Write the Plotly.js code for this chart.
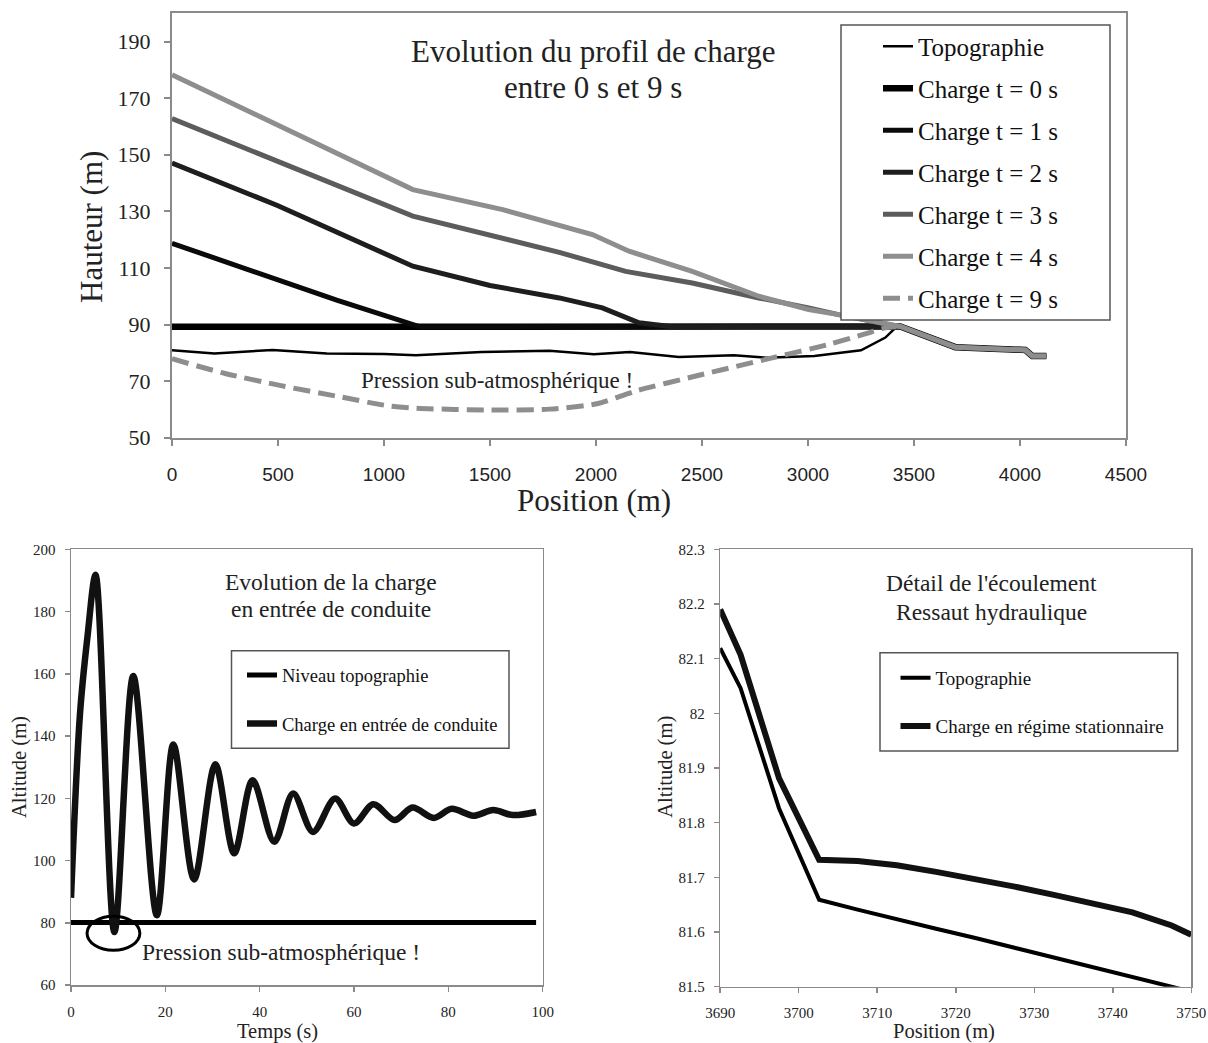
<!DOCTYPE html>
<html>
<head>
<meta charset="utf-8">
<script src="https://cdn.plot.ly/plotly-3.0.1.min.js"></script>
<style>
html,body{margin:0;padding:0;background:#ffffff;}
#chart{width:1208px;height:1043px;}
</style>
</head>
<body>
<div id="chart"></div>
<script>
// ---------- Top chart: Evolution du profil de charge ----------
var topoPos   = [0, 200, 475, 730, 1000, 1150, 1460, 1780, 1990, 2160, 2390, 2650, 2800, 3030, 3250, 3365, 3415];
var topoVal   = [80.9, 79.8, 81.0, 79.8, 79.6, 79.1, 80.3, 80.7, 79.5, 80.3, 78.5, 79.1, 78.3, 78.9, 80.9, 85.4, 89.0];
var tailPos   = [3435, 3695, 4025, 4058, 4124];
var tailVal   = [89.3, 82.0, 81.0, 78.9, 78.9];
var c0Pos = [0, 3415];
var c0Val = [89.2, 89.2];
var c1Pos = [0, 500, 777, 1170, 3415];
var c1Val = [118.7, 106.0, 98.6, 89.2, 89.2];
var c2Pos = [0, 500, 1136, 1500, 1827, 2030, 2203, 2360, 3415];
var c2Val = [147.1, 132.0, 110.6, 103.8, 99.4, 95.9, 90.6, 89.2, 89.2];
var c3Pos = [0, 1136, 1827, 2046, 2140, 2454, 2768, 3003, 3144, 3415];
var c3Val = [162.8, 128.3, 115.5, 110.8, 108.8, 104.7, 99.4, 95.9, 93.5, 89.5];
var c4Pos = [0, 1136, 1560, 1983, 2156, 2454, 2768, 3003, 3144, 3415];
var c4Val = [178.3, 137.7, 130.6, 121.8, 115.9, 108.8, 100.0, 95.3, 93.5, 89.5];
var c9Pos = [0, 250, 520, 775, 1026, 1151, 1500, 1779, 2004, 2188, 2471, 2836, 3099, 3265, 3365, 3415];
var c9Val = [77.9, 72.7, 68.3, 64.7, 61.2, 60.4, 59.8, 60.1, 62.0, 66.5, 71.8, 78.3, 83.0, 86.6, 88.8, 89.2];
var topNames = ['Topographie', 'Charge t = 0 s', 'Charge t = 1 s', 'Charge t = 2 s', 'Charge t = 3 s', 'Charge t = 4 s', 'Charge t = 9 s'];
var topXTicks = [0, 500, 1000, 1500, 2000, 2500, 3000, 3500, 4000, 4500];
var topYTicks = [50, 70, 90, 110, 130, 150, 170, 190];

// ---------- Bottom-left: Evolution de la charge en entrée de conduite ----------
var temps  = [0, 1.9, 3.5, 5.2, 9.2, 13.2, 18.2, 21.7, 26.1, 30.6, 34.6, 38.5, 43.1, 47.1, 51.3, 56.0, 60.0, 64.1, 68.6, 72.4, 76.9, 80.7, 85.3, 89.5, 93.7, 98.6];
var chargeEntree = [88, 147, 172, 191.8, 77, 159.3, 82.4, 137.3, 93.9, 130.9, 102.3, 125.8, 106.0, 121.5, 109.2, 119.9, 111.9, 118.1, 113.0, 117.0, 113.7, 116.6, 114.4, 116.2, 114.6, 115.6];
var tempsTopo = [0, 98.6];
var niveauTopo = [80.1, 80.1];
var blNames = ['Niveau topographie', 'Charge en entrée de conduite'];

// ---------- Bottom-right: Détail de l'écoulement, ressaut hydraulique ----------
var posDetail = [3690, 3692.6, 3697.5, 3702.6, 3707.5, 3712.5, 3717.5, 3722.5, 3727.5, 3732.5, 3737.5, 3742.5, 3747.5, 3750];
var topoDetail = [82.119, 82.046, 81.826, 81.659, 81.641, 81.623, 81.606, 81.589, 81.571, 81.553, 81.536, 81.518, 81.500, 81.491];
var chargeDetail = [82.190, 82.107, 81.881, 81.732, 81.730, 81.722, 81.710, 81.697, 81.683, 81.668, 81.652, 81.636, 81.612, 81.595];
var brNames = ['Topographie', 'Charge en régime stationnaire'];

var SERIF = '"Liberation Serif", "Times New Roman", serif';
var SANS = '"Liberation Sans", Arial, sans-serif';
var W = 1208, H = 1043;
function px(x){ return x / W; }
function py(y){ return 1 - y / H; }

var traces = [];
function topTrace(i, xs, ys, color, width, dash, shape){
  traces.push({
    type: 'scatter', mode: 'lines', x: xs, y: ys, name: topNames[i],
    xaxis: 'x', yaxis: 'y', legend: 'legend', legendgroup: 'g' + i,
    line: {color: color, width: width, dash: dash || 'solid', shape: shape || 'linear', smoothing: 0.7}
  });
}
topTrace(0, topoPos.concat(tailPos), topoVal.concat(tailVal), '#000000', 2.5);
topTrace(1, c0Pos.concat(tailPos), c0Val.concat(tailVal), '#000000', 6.5);
topTrace(2, c1Pos.concat(tailPos), c1Val.concat(tailVal), '#0a0a0a', 5);
topTrace(3, c2Pos.concat(tailPos), c2Val.concat(tailVal), '#1e1e1e', 5);
topTrace(4, c3Pos.concat(tailPos), c3Val.concat(tailVal), '#5c5c5c', 5);
topTrace(5, c4Pos.concat(tailPos), c4Val.concat(tailVal), '#8e8e8e', 5);
topTrace(6, c9Pos, c9Val, '#8e8e8e', 5, '17px,8px', 'spline');

traces.push({type:'scatter', mode:'lines', x: tempsTopo, y: niveauTopo, name: blNames[0],
  xaxis:'x2', yaxis:'y2', legend:'legend2', legendgroup:'b0', line:{color:'#000', width:5}});
traces.push({type:'scatter', mode:'lines', x: temps, y: chargeEntree, name: blNames[1],
  xaxis:'x2', yaxis:'y2', legend:'legend2', legendgroup:'b1', line:{color:'#111', width:6.5, shape:'spline', smoothing:0.9}});

traces.push({type:'scatter', mode:'lines', x: posDetail, y: topoDetail, name: brNames[0],
  xaxis:'x3', yaxis:'y3', legend:'legend3', legendgroup:'r0', line:{color:'#000', width:4}});
traces.push({type:'scatter', mode:'lines', x: posDetail, y: chargeDetail, name: brNames[1],
  xaxis:'x3', yaxis:'y3', legend:'legend3', legendgroup:'r1', line:{color:'#111', width:6}});

var frameColor = '#8a8a8a';
function axBase(extra){
  var a = {showline:true, linecolor:frameColor, linewidth:1.5, mirror:true, showgrid:false, zeroline:false,
           ticks:'outside', ticklen:5, tickcolor:frameColor, tickwidth:1.5, fixedrange:true};
  for (var k in extra) a[k] = extra[k];
  return a;
}
function note(x, y, text, size, angle){
  var a = {xref:'paper', yref:'paper', x:px(x), y:py(y), xanchor:'center', yanchor:'middle', showarrow:false,
           text:text, font:{family:SERIF, size:size, color:'#222'}};
  if (angle) a.textangle = angle;
  return a;
}

var layout = {
  width: W, height: H,
  margin: {l:0, r:0, t:0, b:0},
  paper_bgcolor: '#ffffff', plot_bgcolor: '#ffffff',
  showlegend: true,
  xaxis: axBase({domain:[px(172), px(1126)], anchor:'y', range:[0, 4500], tickvals: topXTicks,
    linewidth:2, tickwidth:2, ticklen:6,
    tickfont:{family:SANS, size:19, color:'#222'}, ticklabelstandoff:12}),
  yaxis: axBase({domain:[py(437.7), py(13.3)], anchor:'x', range:[50, 200], tickvals: topYTicks,
    linewidth:2, tickwidth:2, ticklen:6,
    tickfont:{family:SERIF, size:22, color:'#222'}, ticklabelstandoff:9}),
  xaxis2: axBase({domain:[px(71), px(542.7)], anchor:'y2', range:[0, 100], dtick:20, tick0:0,
    tickfont:{family:SERIF, size:15, color:'#222'}, ticklabelstandoff:7}),
  yaxis2: axBase({domain:[py(985), py(549.3)], anchor:'x2', range:[60, 200], dtick:20, tick0:60,
    tickfont:{family:SERIF, size:15, color:'#222'}, ticklabelstandoff:6}),
  xaxis3: axBase({domain:[px(720.2), px(1191.3)], anchor:'y3', range:[3690, 3750], dtick:10, tick0:3690,
    tickfont:{family:SERIF, size:15, color:'#222'}, ticklabelstandoff:7}),
  yaxis3: axBase({domain:[py(986.7), py(549.3)], anchor:'x3', range:[81.5, 82.3], dtick:0.1, tick0:81.5,
    tickfont:{family:SERIF, size:15, color:'#222'}, ticklabelstandoff:6}),
  legend: {x: px(878), y: py(23.5), xanchor:'left', yanchor:'top', bgcolor:'rgba(0,0,0,0)', borderwidth:0,
    font:{family:SERIF, size:25, color:'#111'}, tracegroupgap:6.5, traceorder:'grouped'},
  legend2: {x: px(242), y: py(656.4), xanchor:'left', yanchor:'top', bgcolor:'rgba(0,0,0,0)', borderwidth:0,
    font:{family:SERIF, size:18.5, color:'#111'}, tracegroupgap:21.5, traceorder:'grouped'},
  legend3: {x: px(895.5), y: py(659), xanchor:'left', yanchor:'top', bgcolor:'rgba(0,0,0,0)', borderwidth:0,
    font:{family:SERIF, size:19, color:'#111'}, tracegroupgap:20.5, traceorder:'grouped'},
  shapes: [
    {type:'rect', xref:'paper', yref:'paper', x0:px(841), x1:px(1110), y0:py(320), y1:py(25),
     fillcolor:'#ffffff', line:{color:'#555', width:1.5}, layer:'above'},
    {type:'rect', xref:'paper', yref:'paper', x0:px(231.5), x1:px(509), y0:py(748.3), y1:py(650.7),
     fillcolor:'#ffffff', line:{color:'#555', width:1.5}, layer:'above'},
    {type:'rect', xref:'paper', yref:'paper', x0:px(880), x1:px(1177.7), y0:py(751), y1:py(652.7),
     fillcolor:'#ffffff', line:{color:'#555', width:1.5}, layer:'above'},
    {type:'circle', xref:'x2', yref:'y2', x0:3.4, x1:14.6, y0:71.2, y1:82.1,
     line:{color:'#000', width:3}, layer:'above'}
  ],
  annotations: [
    note(593, 51.7, 'Evolution du profil de charge', 31),
    note(593, 88, 'entre 0 s et 9 s', 31),
    note(497, 381, 'Pression sub-atmosphérique !', 23),
    note(594, 500, 'Position (m)', 31),
    note(92, 227, 'Hauteur (m)', 31, -90),

    note(331, 581.7, 'Evolution de la charge', 23.5),
    note(331, 609, 'en entrée de conduite', 23.5),
    note(281, 951.7, 'Pression sub-atmosphérique !', 23.5),
    note(277, 1031.7, 'Temps (s)', 20.5),
    note(19, 767, 'Altitude (m)', 20.5, -90),

    note(991.6, 583.3, 'Détail de l\'écoulement', 23.5),
    note(991.6, 611.7, 'Ressaut hydraulique', 23.5),
    note(944, 1031.7, 'Position (m)', 20.5),
    note(666, 766.7, 'Altitude (m)', 20.5, -90)
  ]
};

Plotly.newPlot('chart', traces, layout, {staticPlot:true, displayModeBar:false});
</script>
</body>
</html>
